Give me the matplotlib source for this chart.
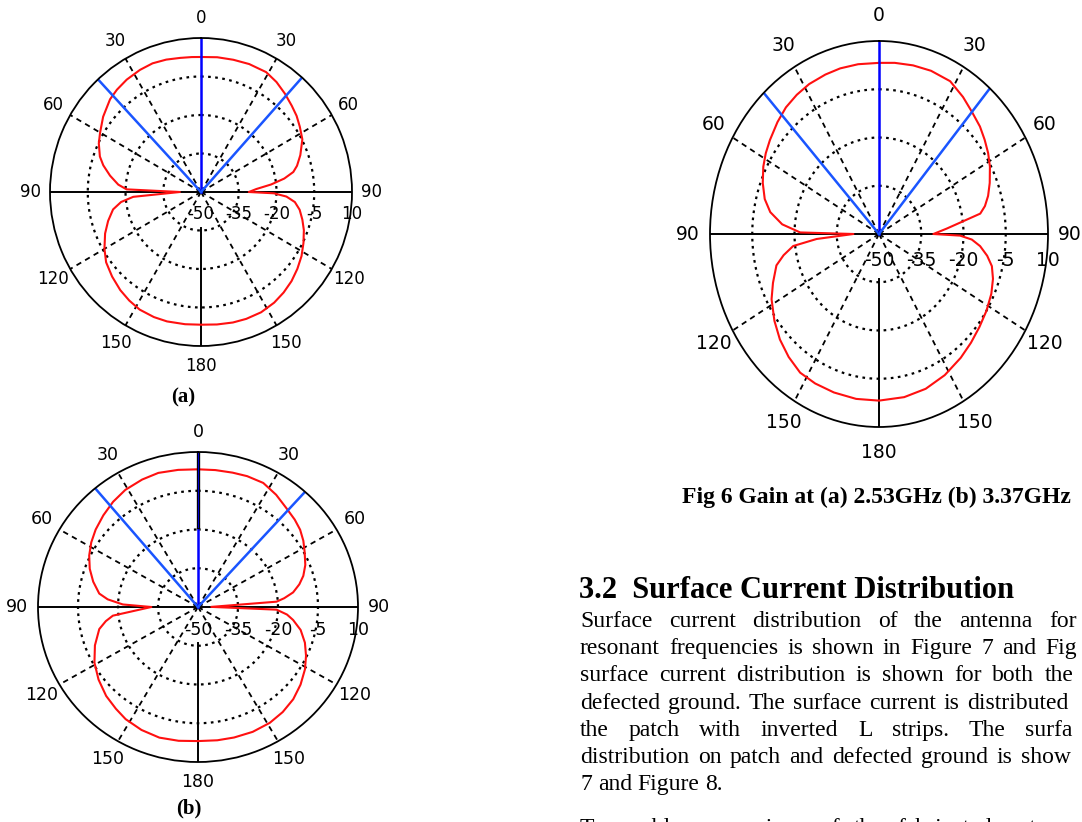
import numpy as np
import matplotlib
matplotlib.use("Agg")
import matplotlib.pyplot as plt
from matplotlib.transforms import offset_copy

W, H = 1082, 822

# pattern angles: degrees clockwise from top (270 = left "90"), gain in dB
ang_a = [0, 7, 14, 21, 29, 35, 41, 47, 52, 57, 63, 70, 75, 78, 81, 84, 87, 90, 91, 93, 96, 100,
         105, 110, 116, 122, 128, 134, 140, 146, 153, 160, 166, 173, 180, 187, 195, 201, 208, 214,
         220, 227, 234, 240, 247, 253, 259, 263, 266, 270, 272, 275, 280, 285, 289, 295, 300, 307,
         315, 320, 326, 333, 339, 345, 351, 356]
gain_a = [2.6, 2.9, 3.1, 3.4, 3.4, 2.3, 0.8, -0.7, -1.8, -3.2, -4.8, -8.0, -10.5, -12.5, -16.5, -22, -28, -31, -21, -16, -12.5, -10.2,
          -8.3, -6.5, -4.7, -2.9, -1.4, 0.0, 1.1, 2.0, 2.6, 2.6, 2.4, 2.0, 1.7, 1.9, 2.2, 2.2, 1.9, 1.0,
          -0.1, -1.7, -3.4, -5.7, -8.6, -11.4, -14.4, -18, -23, -41.6, -20.4, -17, -13.3, -9.8, -7.5, -5.2, -3.7, -1.3,
          1.1, 2.0, 2.8, 3.4, 3.7, 3.4, 2.9, 2.7]
beam_a = [-43, 0, 42]

ang_b = [0, 7, 14, 20, 27, 34, 41, 47, 52, 57, 62, 68, 73, 77, 81, 84, 86, 89.5, 92, 95, 98, 103,
         109, 115, 121, 128, 135, 142, 149, 157, 165, 172, 180, 188, 196, 204, 212, 218, 225, 233,
         241, 249, 257, 261, 264, 270, 272, 275, 278, 284, 290, 296, 302, 308, 315, 322, 329, 337,
         344, 352]
gain_b = [3.3, 3.4, 3.6, 3.9, 3.9, 2.4, 0.6, -0.4, -1.4, -2.9, -4.7, -6.6, -8.7, -11, -13.9, -17.5, -20.5, -45, -20.5, -16.5, -14, -10.5,
          -7.6, -5.3, -3.2, -1.2, 0.5, 1.6, 2.3, 2.5, 2.3, 2.1, 1.9, 2.3, 2.6, 2.1, 1.2, 0.0, -1.3, -3.3,
          -5.6, -8.6, -12, -15, -17.9, -32.5, -21.8, -16, -12.6, -9.5, -6.8, -4.6, -2.8, -1.3, 0.2, 1.7, 2.9, 3.6,
          4.0, 3.6]
beam_b = [-40, 0, 42]

ang_c = [0, 6, 13, 20, 28, 35, 41, 47, 52, 57, 62, 68, 73, 77, 80, 83, 86, 90, 91, 93, 96, 100,
         104, 109, 115, 122, 129, 136, 143, 152, 161, 170, 180, 189, 198, 206, 213, 220, 227, 234,
         242, 248, 255, 259, 263, 266, 270, 271, 275, 280, 285, 291, 297, 302, 307, 314, 320, 326,
         332, 339, 345, 352]
gain_c = [3.2, 3.5, 3.8, 4.0, 3.8, 2.0, 0.3, -1.0, -2.4, -3.8, -5.4, -7.6, -9.5, -11.4, -13.5, -21, -25.9, -30.7, -21.2, -17, -13.9, -11,
          -8.7, -7.2, -6, -5, -4.1, -3.0, -1.8, -0.3, 0.9, 1.5, 1.8, 1.9, 1.8, 1.7, 1.4, -0.1, -1.9, -4.1,
          -6.8, -9.4, -12.3, -15.5, -19.3, -27.8, -40.9, -22, -15.5, -10.8, -8.0, -5.8, -3.9, -2.6, -1.5, 0.1, 1.4, 2.2,
          2.8, 3.1, 3.3, 3.3]
beam_c = [-43, 0, 41]

theta_ticks = [0, 30, 60, 90, 120, 150, 180, 210, 240, 270, 300, 330]
theta_labels = ["0", "30", "60", "90", "120", "150", "180", "150", "120", "90", "60", "30"]
r_ticks = [-50, -35, -20, -5, 10]

caption = "Fig 6 Gain at (a) 2.53GHz (b) 3.37GHz"
heading = "3.2  Surface Current Distribution"
body = [
    "Surface current distribution of the antenna for both the",
    "resonant frequencies is shown in Figure 7 and Figure 8. The",
    "surface current distribution is shown for both the patch and",
    "defected ground. The surface current is distributed throughout",
    "the patch with inverted L strips. The surface current",
    "distribution on patch and defected ground is shown in Figure",
    "7 and Figure 8.",
]
next_para = "To enable comparison of the fabricated antenna with the"

fig = plt.figure(figsize=(W / 100, H / 100), dpi=100)
fig.patch.set_facecolor("white")


def panel(cx, cy, rx, ry, ang, gain, beams, fs, lab_dy, black_top=False):
    ax = fig.add_axes([(cx - rx) / W, 1 - (cy + ry) / H, 2 * rx / W, 2 * ry / H], projection="polar")
    ax.set_theta_zero_location("N")
    ax.set_theta_direction(-1)
    ax.set_ylim(-50, 10)
    ax.set_aspect("auto")
    ax.set_xticks([])
    ax.set_yticks([])
    ax.grid(False)
    ax.spines["polar"].set_linewidth(1.3)
    full = np.linspace(0, 2 * np.pi, 361)
    for r in r_ticks[1:-1]:
        ax.plot(full, np.full_like(full, r), color="black", ls=(0, (1.2, 2.0)), lw=1.6)
    for a in theta_ticks:
        if a % 90:
            ax.plot(np.deg2rad([a, a]), [-50, 10], color="black", ls=(0, (3, 2.5)), lw=1.3)
    for a in (90, 270):
        ax.plot(np.deg2rad([a, a]), [-50, 10], color="black", lw=1.4)
    ax.plot(np.deg2rad([180, 180]), [-36, 10], color="black", lw=1.4)

    th = np.deg2rad(ang + [ang[0] + 360])
    ax.plot(th, gain + [gain[0]], color="#ff1010", lw=1.5)

    for b in beams:
        col = "#0000ff" if b == 0 else "#1a55ff"
        ax.plot(np.deg2rad([b, b]), [-50, 10], color=col, lw=1.8)
    if black_top:
        ax.plot([0, 0], [-19, 10], color="black", lw=2.4)
        ax.plot([0, 0], [-19, 10], color="#0000cc", lw=0.8)

    for a, lab in zip(theta_ticks, theta_labels):
        ax.text(np.deg2rad(a), 17.8, lab, ha="center", va="center", fontsize=fs,
                family="DejaVu Sans", clip_on=False)
    tr = offset_copy(ax.transData, fig=fig, y=-lab_dy, units="dots")
    for r in r_ticks:
        ax.text(np.pi / 2, r, str(r), transform=tr, ha="center", va="center",
                fontsize=fs, family="DejaVu Sans", clip_on=False)
    return ax


panel(201, 192, 151, 154, ang_a, gain_a, beam_a, 12, 22)
panel(198, 607, 160, 155, ang_b, gain_b, beam_b, 12.5, 23, black_top=True)
panel(879, 234, 169, 193, ang_c, gain_c, beam_c, 13.5, 27)

serif = "Liberation Serif"
fig.text(183 / W, 1 - 402 / H, "(a)", ha="center", va="baseline", fontsize=15, weight="bold", family=serif)
fig.text(189 / W, 1 - 813 / H, "(b)", ha="center", va="baseline", fontsize=15, weight="bold", family=serif)
fig.text(876 / W, 1 - 503 / H, caption, ha="center", va="baseline", fontsize=17, weight="bold", family=serif)
fig.text(579 / W, 1 - 598 / H, heading, ha="left", va="baseline", fontsize=22, weight="bold", family=serif)

renderer = fig.canvas.get_renderer()


def width_of(t):
    return t.get_window_extent(renderer).width


def justify(line, y, x0=580, x1=1180, size=17, last=False):
    # column runs past the page crop, so words are laid out justified and
    # whatever falls beyond the right edge is trimmed off, as in the scan
    words = line.split()
    ts = [fig.text(0, 1 - y / H, w, fontsize=size, family=serif, va="baseline") for w in words]
    widths = [width_of(t) for t in ts]
    if last or len(words) < 2:
        gap = size * 100 / 72 * 0.25
    else:
        gap = (x1 - x0 - sum(widths)) / (len(words) - 1)
    x = x0
    for t, w in zip(ts, widths):
        t.set_x(x / W)
        if x >= W - 2:
            t.remove()
        elif x + w > W - 1:
            s = t.get_text()
            while s and x + width_of(t) > W - 1:
                s = s[:-1]
                t.set_text(s)
        x += w + gap


for i, line in enumerate(body):
    justify(line, 627 + 27.2 * i, last=(i == len(body) - 1))
justify(next_para, 834)

fig.savefig("out.png", dpi=100)
